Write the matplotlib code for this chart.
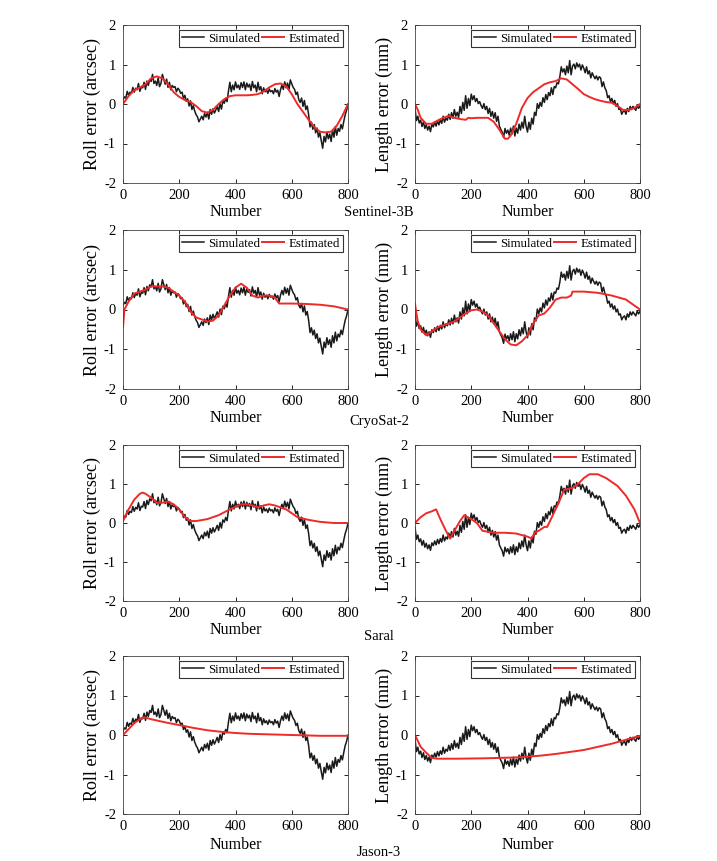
import matplotlib
matplotlib.use('Agg')
import matplotlib.pyplot as plt
import numpy as np

plt.rcParams['font.family'] = ['Liberation Serif', 'DejaVu Serif']
plt.rcParams['axes.unicode_minus'] = False

# simulated series (same in every row), sampled every 5 points
roll_sim = [
    0.10, 0.18, 0.15, 0.32, 0.22, 0.30, 0.27, 0.42, 0.30, 0.40,
    0.36, 0.52, 0.32, 0.43, 0.41, 0.55, 0.37, 0.58, 0.47, 0.62,
    0.57, 0.75, 0.52, 0.58, 0.47, 0.66, 0.44, 0.52, 0.75, 0.62,
    0.50, 0.63, 0.42, 0.55, 0.36, 0.47, 0.42, 0.44, 0.31, 0.40,
    0.36, 0.27, 0.30, 0.14, 0.22, 0.07, 0.13, -0.05, 0.08, -0.14,
    -0.04, -0.18, -0.27, -0.33, -0.45, -0.38, -0.31, -0.40, -0.24, -0.33,
    -0.21, -0.38, -0.14, -0.26, -0.12, -0.23, -0.15, -0.06, -0.19, 0.01,
    -0.13, 0.08, 0.02, 0.14, 0.06, 0.33, 0.55, 0.31, 0.48, 0.36,
    0.56, 0.41, 0.48, 0.37, 0.54, 0.42, 0.56, 0.36, 0.53, 0.43,
    0.50, 0.34, 0.57, 0.41, 0.48, 0.31, 0.55, 0.36, 0.44, 0.26,
    0.41, 0.31, 0.36, 0.27, 0.38, 0.31, 0.34, 0.26, 0.39, 0.30,
    0.35, 0.19, 0.36, 0.48, 0.37, 0.56, 0.41, 0.53, 0.36, 0.61,
    0.51, 0.42, 0.37, 0.24, 0.30, 0.11, 0.04, 0.15, -0.06, 0.09,
    -0.14, -0.05, -0.27, -0.58, -0.46, -0.64, -0.52, -0.73, -0.61, -0.84,
    -0.72, -0.93, -1.12, -0.82, -0.96, -0.71, -0.88, -0.76, -0.95, -0.66,
    -0.84, -0.57, -0.79, -0.62, -0.69, -0.52, -0.63, -0.44, -0.27, -0.16,
    0.00,
]
length_sim = [
    -0.10, -0.42, -0.31, -0.48, -0.41, -0.57, -0.45, -0.62, -0.52, -0.66,
    -0.56, -0.70, -0.51, -0.58, -0.46, -0.56, -0.42, -0.53, -0.40, -0.49,
    -0.31, -0.46, -0.36, -0.41, -0.26, -0.39, -0.22, -0.36, -0.14, -0.31,
    -0.21, -0.34, -0.06, -0.24, 0.04, -0.16, 0.21, -0.11, 0.14, -0.04,
    0.25, 0.11, 0.21, 0.06, 0.14, 0.01, 0.06, -0.04, -0.11, 0.01,
    -0.14, -0.06, -0.24, -0.11, -0.31, -0.19, -0.36, -0.22, -0.44, -0.31,
    -0.56, -0.64, -0.71, -0.85, -0.62, -0.74, -0.66, -0.79, -0.61, -0.76,
    -0.56, -0.81, -0.61, -0.74, -0.51, -0.66, -0.46, -0.61, -0.31, -0.56,
    -0.71, -0.46, -0.64, -0.36, -0.51, -0.21, -0.29, 0.01, -0.11, 0.04,
    -0.06, 0.16, 0.04, 0.24, 0.11, 0.29, 0.21, 0.41, 0.24, 0.44,
    0.41, 0.54, 0.51, 0.69, 0.94, 0.81, 0.89, 0.74, 0.96, 0.79,
    1.10, 0.74, 0.96, 1.01, 0.89, 1.04, 0.94, 1.01, 0.86, 0.99,
    0.91, 0.79, 0.94, 0.76, 0.84, 0.66, 0.79, 0.71, 0.64, 0.71,
    0.61, 0.69, 0.66, 0.44, 0.56, 0.41, 0.34, 0.16, 0.21, 0.06,
    0.14, 0.01, 0.09, -0.06, 0.01, -0.14, -0.11, -0.26, -0.19, -0.16,
    -0.26, -0.11, -0.19, -0.06, -0.14, -0.06, -0.11, -0.16, -0.04, -0.11,
    -0.05,
]
sim_x = np.arange(len(roll_sim)) * 5

stations = ['Sentinel-3B', 'CryoSat-2', 'Saral', 'Jason-3']

# estimated roll (x, y) per station
roll_est_x = [
    [0, 20, 40, 60, 80, 100, 120, 140, 160, 180, 200, 220, 240, 260, 280, 300, 320, 340, 360, 380,
     400, 420, 440, 460, 480, 500, 520, 540, 560, 580, 600, 620, 640, 660, 680, 700, 720, 740, 760, 780, 800],
    [0, 5, 20, 40, 60, 80, 100, 120, 140, 160, 180, 200, 220, 240, 260, 280, 300, 320, 340, 360,
     380, 400, 420, 440, 460, 480, 500, 520, 540, 555, 600, 650, 700, 750, 800],
    [0, 20, 40, 60, 70, 80, 100, 120, 140, 160, 180, 200, 220, 240, 260, 300, 340, 380, 420, 440,
     460, 480, 500, 520, 540, 560, 580, 600, 620, 660, 700, 750, 800],
    [0, 20, 40, 60, 75, 100, 150, 200, 250, 300, 350, 400, 450, 500, 550, 600, 650, 700, 800],
]
roll_est_y = [
    [0.0, 0.2, 0.35, 0.42, 0.5, 0.65, 0.7, 0.65, 0.5, 0.3, 0.18, 0.1, 0.05, -0.05, -0.18, -0.22, -0.15, 0.0, 0.12, 0.2,
     0.22, 0.22, 0.22, 0.23, 0.25, 0.32, 0.42, 0.5, 0.52, 0.45, 0.25, 0.0, -0.2, -0.4, -0.58, -0.7, -0.72, -0.7, -0.55, -0.3, 0.0],
    [-0.45, 0.0, 0.2, 0.4, 0.45, 0.5, 0.58, 0.58, 0.58, 0.55, 0.45, 0.35, 0.2, -0.05, -0.2, -0.25, -0.3, -0.28, -0.15, 0.1,
     0.35, 0.55, 0.65, 0.55, 0.35, 0.3, 0.35, 0.35, 0.3, 0.15, 0.15, 0.14, 0.12, 0.08, 0.0],
    [0.05, 0.35, 0.6, 0.75, 0.78, 0.75, 0.65, 0.52, 0.52, 0.55, 0.48, 0.35, 0.15, 0.05, 0.05, 0.1, 0.2, 0.35, 0.48, 0.48,
     0.45, 0.4, 0.45, 0.48, 0.45, 0.4, 0.35, 0.25, 0.15, 0.08, 0.03, 0.0, 0.0],
    [0.0, 0.15, 0.3, 0.4, 0.45, 0.4, 0.32, 0.25, 0.18, 0.12, 0.08, 0.05, 0.03, 0.02, 0.01, 0.0, -0.01, -0.02, -0.02],
]

# estimated length (x, y) per station
length_est_x = [
    [0, 10, 20, 40, 60, 80, 100, 120, 140, 160, 180, 190, 200, 220, 260, 280, 300, 320, 330, 340,
     360, 380, 400, 420, 440, 460, 480, 500, 520, 540, 560, 580, 600, 620, 640, 660, 680, 700, 720, 740, 760, 780, 800],
    [0, 5, 10, 20, 40, 60, 80, 100, 120, 140, 160, 180, 200, 220, 240, 260, 280, 300, 320, 340,
     360, 380, 400, 420, 440, 460, 480, 500, 520, 540, 555, 560, 600, 650, 700, 750, 800],
    [0, 20, 40, 60, 75, 90, 110, 125, 140, 160, 175, 200, 220, 240, 280, 320, 360, 400, 415, 425,
     440, 460, 470, 490, 510, 530, 560, 580, 600, 620, 650, 680, 720, 750, 780, 800],
    [0, 10, 20, 40, 60, 80, 150, 250, 350, 400, 450, 500, 550, 600, 650, 700, 750, 800],
]
length_est_y = [
    [0.0, -0.15, -0.35, -0.5, -0.5, -0.42, -0.35, -0.3, -0.35, -0.38, -0.4, -0.35, -0.36, -0.35, -0.35, -0.45, -0.65, -0.88, -0.88, -0.8,
     -0.5, -0.1, 0.15, 0.3, 0.4, 0.5, 0.55, 0.58, 0.65, 0.62, 0.5, 0.38, 0.25, 0.18, 0.12, 0.08, 0.05, 0.03, -0.05, -0.15, -0.15, -0.1, 0.0],
    [0.15, -0.1, -0.3, -0.5, -0.65, -0.55, -0.45, -0.4, -0.35, -0.3, -0.2, -0.1, -0.02, 0.0, -0.05, -0.15, -0.35, -0.55, -0.75, -0.88,
     -0.9, -0.8, -0.65, -0.35, -0.15, -0.1, 0.05, 0.25, 0.3, 0.3, 0.35, 0.45, 0.45, 0.42, 0.35, 0.25, 0.0],
    [0.0, 0.15, 0.25, 0.3, 0.35, 0.1, -0.2, -0.4, -0.2, 0.05, 0.2, 0.1, 0.0, -0.2, -0.25, -0.25, -0.27, -0.35, -0.4, -0.25,
     -0.2, -0.1, -0.1, 0.2, 0.5, 0.85, 0.9, 1.0, 1.15, 1.25, 1.25, 1.15, 0.95, 0.7, 0.35, 0.0],
    [0.0, -0.15, -0.3, -0.45, -0.58, -0.6, -0.6, -0.59, -0.57, -0.55, -0.52, -0.48, -0.43, -0.38, -0.3, -0.22, -0.12, -0.02],
]

W, H = 717, 861
fig = plt.figure(figsize=(W / 100, H / 100), dpi=100)

# pixel layout of the rows: (top, bottom), and label positions
row_px = [(25, 183), (230, 389), (445, 601), (656, 814)]
number_y = [212, 418, 630, 845]
station_y = [212, 421, 637, 852]
col_px = [(123, 348), (415, 640)]

RED = '#ee2a2a'


def draw_panel(ax, sim, est_x, est_y, ylabel, xlabel_y):
    ax.plot(sim_x, sim, color='#1a1a1a', lw=1.1, label='Simulated')
    ax.plot(est_x, est_y, color=RED, lw=1.4, label='Estimated')
    ax.set_xlim(0, 800)
    ax.set_ylim(-2, 2)
    ax.set_xticks([0, 200, 400, 600, 800])
    ax.set_yticks([-2, -1, 0, 1, 2])
    ax.tick_params(direction='in', top=True, right=True, labelsize=10.5, length=3, width=0.6)
    ax.tick_params(axis='x', pad=4)
    ax.tick_params(axis='y', pad=5)
    for s in ax.spines.values():
        s.set_linewidth(0.6)
        s.set_color('#444444')
    ax.set_ylabel(ylabel, fontsize=13, labelpad=2)
    leg = ax.legend(loc='upper right', ncol=2, fontsize=9.3, frameon=True, fancybox=False,
                    handlelength=1.7, handletextpad=0.35, columnspacing=0.15,
                    borderpad=0.2, borderaxespad=0.4)
    leg.get_frame().set_edgecolor('black')
    leg.get_frame().set_linewidth(0.8)
    # xlabel placed at a fixed pixel row
    pos = ax.get_position()
    fig.text(pos.x0 + pos.width / 2, 1 - xlabel_y / H, 'Number', ha='center', va='center', fontsize=11.5)


for i, name in enumerate(stations):
    top, bot = row_px[i]
    for j, (l, r) in enumerate(col_px):
        ax = fig.add_axes([l / W, 1 - bot / H, (r - l) / W, (bot - top) / H])
        if j == 0:
            draw_panel(ax, roll_sim, roll_est_x[i], roll_est_y[i], 'Roll error (arcsec)', number_y[i])
        else:
            draw_panel(ax, length_sim, length_est_x[i], length_est_y[i], 'Length error (mm)', number_y[i])
    fig.text(379 / W, 1 - station_y[i] / H, name, ha='center', va='center', fontsize=10.5)

fig.savefig('out.png', dpi=100)
